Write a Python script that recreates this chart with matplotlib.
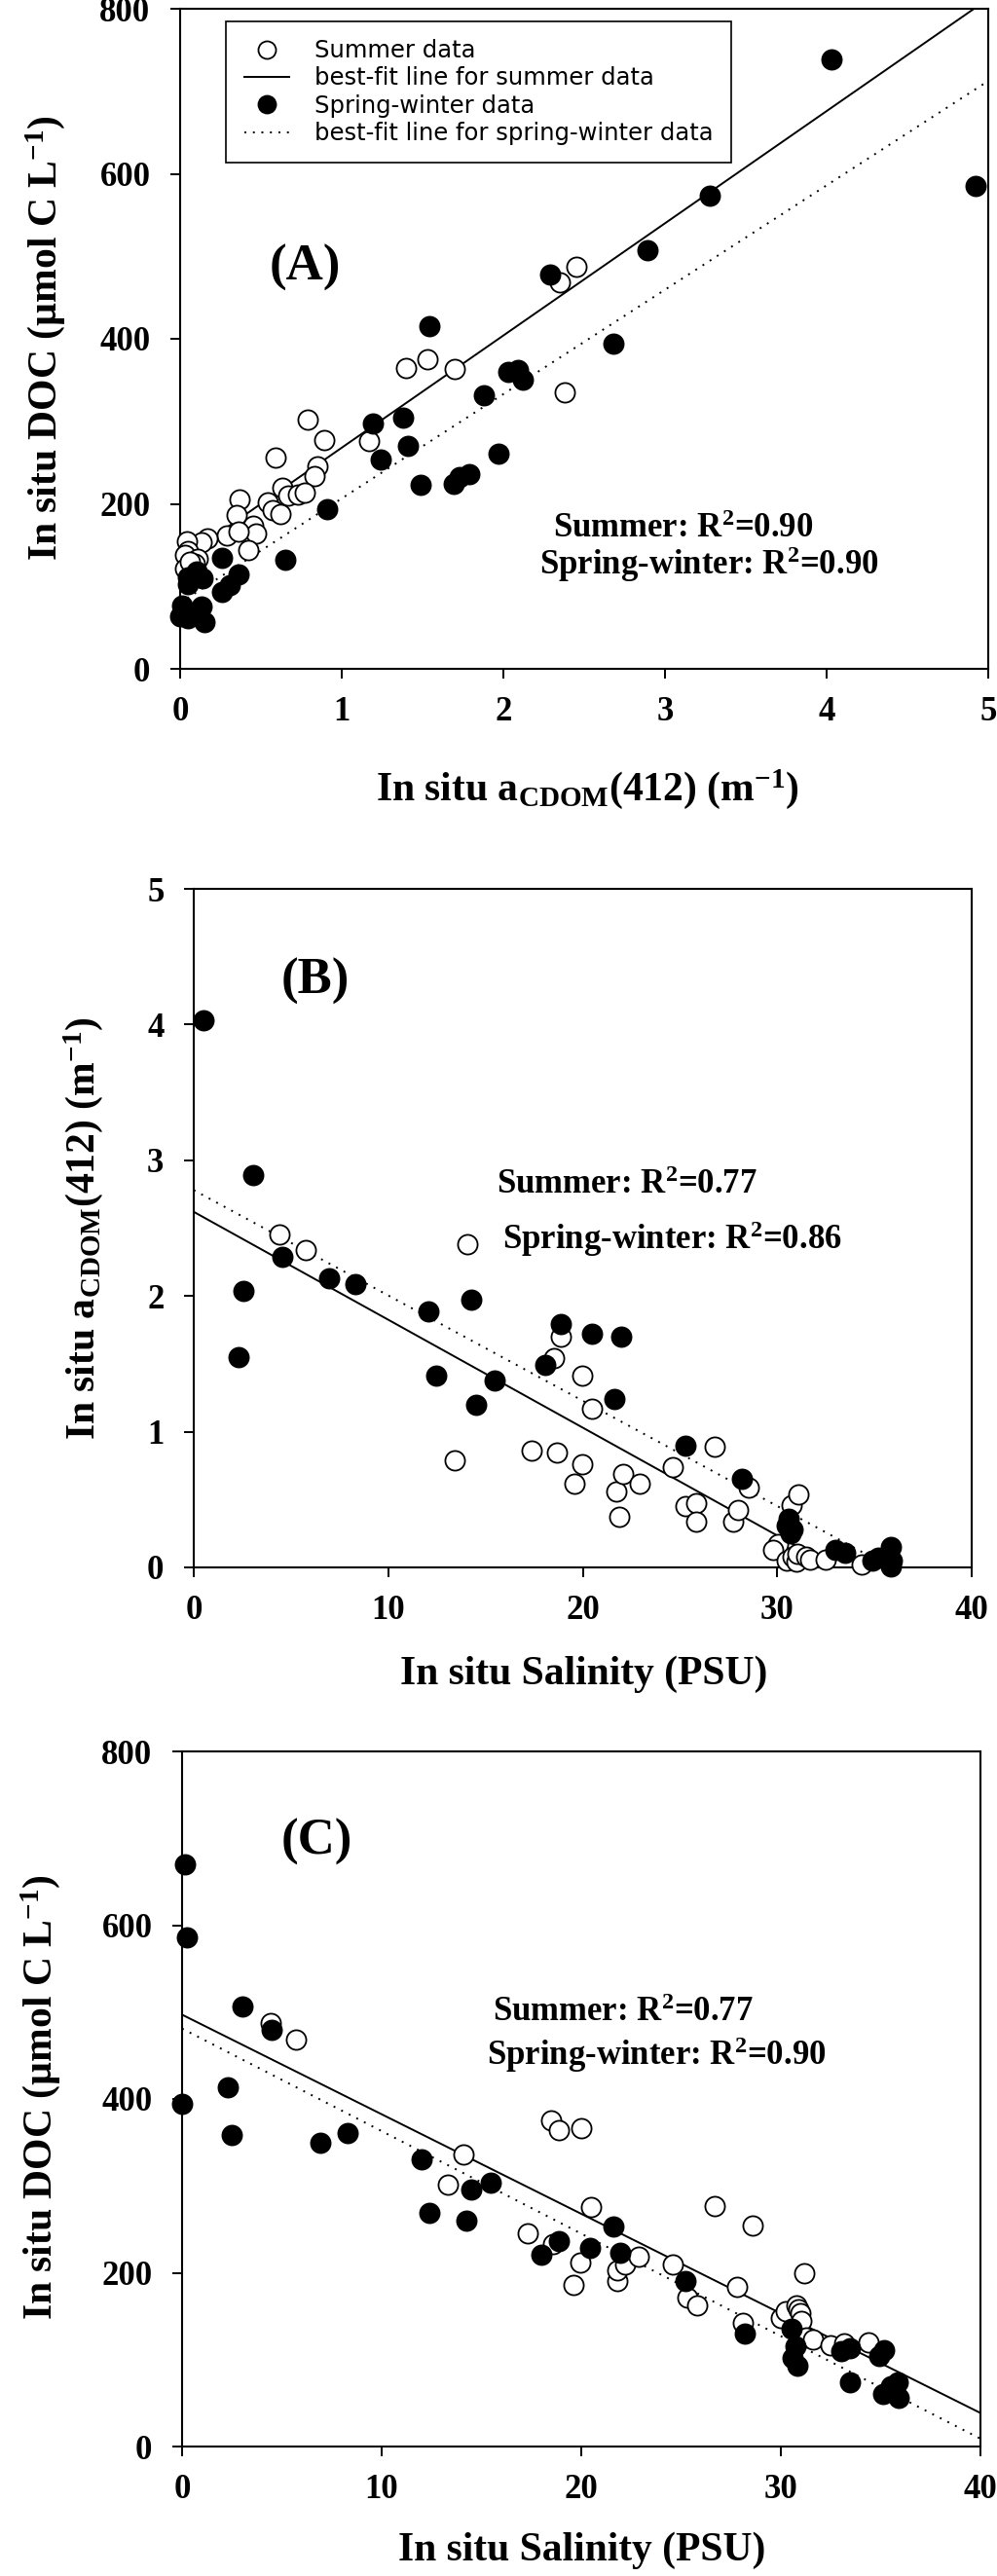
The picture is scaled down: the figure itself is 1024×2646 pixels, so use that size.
import matplotlib
matplotlib.use("Agg")
import matplotlib.pyplot as plt
import numpy as np
from matplotlib.lines import Line2D

plt.rcParams['font.family'] = ['Liberation Serif', 'DejaVu Serif']
plt.rcParams['font.weight'] = 'bold'
plt.rcParams['mathtext.fontset'] = 'custom'
plt.rcParams['mathtext.rm'] = 'Liberation Serif:bold'
plt.rcParams['mathtext.bf'] = 'Liberation Serif:bold'
plt.rcParams['mathtext.it'] = 'Liberation Serif:bold'
plt.rcParams['mathtext.default'] = 'rm'

# ---- panel A: DOC vs aCDOM(412) ----
a_sum_x = [1.40, 1.53, 1.70, 0.79, 0.89, 1.17, 0.59, 0.85, 0.83, 0.37, 0.35, 0.63,
           0.54, 0.57, 0.62, 0.67, 0.73, 0.77, 0.45, 0.47, 0.42, 0.29, 0.36, 0.17,
           0.13, 0.04, 0.05, 0.03, 0.11, 0.09, 0.03, 0.06, 2.35, 2.45, 2.38]
a_sum_y = [365, 375, 364, 302, 277, 276, 256, 245, 234, 205, 187, 220,
           202, 192, 188, 210, 211, 213, 173, 164, 144, 162, 166, 158,
           153, 155, 143, 138, 133, 127, 122, 130, 468, 487, 335]
a_sw_x = [1.54, 1.19, 1.38, 1.41, 1.24, 1.49, 1.69, 1.73, 1.79, 1.97, 1.88, 2.03,
          2.09, 2.12, 0.91, 0.65, 0.26, 0.26, 0.31, 0.36, 0.05, 0.05, 0.14, 0.10,
          0.01, 0.13, 0.00, 0.05, 0.15, 0.08, 4.03, 4.92, 3.28, 2.89, 2.29, 2.68]
a_sw_y = [415, 297, 304, 270, 254, 223, 224, 232, 236, 261, 331, 360,
          362, 350, 193, 132, 135, 93, 101, 114, 111, 103, 110, 118,
          77, 76, 64, 61, 57, 67, 739, 585, 574, 507, 478, 394]
a_fit_sum = (132, 136.0)    # intercept, slope
a_fit_sw = (80, 126.5)

# ---- panel B: aCDOM(412) vs salinity ----
b_sum_x = [4.41, 5.78, 14.08, 18.86, 18.53, 19.97, 20.49, 13.40, 17.35, 18.69, 19.97, 19.58,
           21.73, 21.86, 22.06, 22.91, 24.61, 26.76, 25.26, 25.85, 25.85, 27.75, 27.97, 28.55,
           30.72, 31.10, 30.05, 29.80, 30.47, 30.80, 30.97, 31.05, 31.47, 31.70, 32.47, 34.33]
b_sum_y = [2.45, 2.34, 2.38, 1.70, 1.54, 1.41, 1.17, 0.79, 0.86, 0.85, 0.76, 0.62,
           0.56, 0.37, 0.69, 0.62, 0.74, 0.89, 0.45, 0.47, 0.34, 0.34, 0.42, 0.59,
           0.46, 0.54, 0.17, 0.13, 0.05, 0.08, 0.04, 0.10, 0.08, 0.06, 0.06, 0.02]
b_sw_x = [0.49, 3.07, 2.55, 2.32, 4.54, 6.96, 8.33, 12.06, 14.28, 12.48, 14.54, 15.49,
          18.86, 18.07, 20.49, 21.96, 21.63, 25.26, 28.18, 30.60, 30.47, 30.80, 30.70,
          32.97, 33.47, 34.88, 35.20, 35.47, 35.85, 35.88, 35.85]
b_sw_y = [4.03, 2.89, 2.04, 1.55, 2.29, 2.13, 2.09, 1.89, 1.97, 1.41, 1.20, 1.38,
          1.79, 1.49, 1.72, 1.70, 1.24, 0.90, 0.65, 0.36, 0.31, 0.28, 0.25,
          0.13, 0.11, 0.05, 0.07, 0.07, 0.15, 0.05, 0.01]
b_fit_sum = (2.62, -0.0795)
b_fit_sw = (2.78, -0.0776)

# ---- panel C: DOC vs salinity ----
c_sum_x = [4.42, 5.70, 18.50, 18.90, 20.00, 14.08, 13.30, 17.30, 20.50, 18.60, 19.97, 19.60,
           21.80, 21.80, 22.20, 22.90, 24.60, 26.70, 28.60, 25.30, 25.80, 27.79, 28.08, 31.17,
           30.00, 30.23, 30.80, 30.88, 30.96, 31.04, 31.29, 31.61, 32.50, 33.16, 34.41]
c_sum_y = [487, 468, 375, 364, 366, 336, 301, 245, 276, 233, 212, 186,
           190, 203, 210, 218, 209, 277, 254, 171, 163, 184, 142, 200,
           148, 156, 162, 158, 153, 145, 126, 123, 117, 119, 120]
c_sw_x = [0.16, 0.26, 0.00, 3.04, 4.48, 2.30, 2.50, 6.91, 8.29, 12.00, 12.38, 14.24,
          14.50, 15.46, 18.02, 18.88, 20.45, 21.60, 21.95, 25.20, 28.20, 30.52, 30.71, 30.59,
          30.85, 33.00, 33.44, 33.48, 34.94, 35.19, 35.10, 35.50, 35.84, 35.92]
c_sw_y = [670, 586, 394, 506, 479, 414, 359, 350, 361, 330, 269, 260,
          296, 304, 221, 236, 229, 253, 223, 191, 130, 136, 115, 102,
          93, 110, 113, 74, 104, 111, 61, 69, 74, 56]
c_fit_sum = (497, -11.46)
c_fit_sw = (481, -11.80)

W, H = 1024, 2646
fig = plt.figure(figsize=(W / 100, H / 100), dpi=100)


def box(l, t, r, b):
    """axes rect from pixel edges (top-left origin)"""
    return [l / W, 1 - b / H, (r - l) / W, (b - t) / H]


def fpos(x, y):
    return x / W, 1 - y / H


DOT = (0, (1, 3.5))
MS = 210


def panel(rect, sx, sy, wx, wy, fsum, fsw, xlim, ylim, xticks, yticks):
    ax = fig.add_axes(rect)
    xs = np.array(xlim)
    ax.plot(xs, fsum[0] + fsum[1] * xs, color='black', lw=1.4)
    ax.plot(xs, fsw[0] + fsw[1] * xs, color='black', lw=1.4, linestyle=DOT)
    ax.scatter(sx, sy, s=MS, facecolors='white', edgecolors='black', linewidths=1.3,
               clip_on=False, zorder=3)
    ax.scatter(wx, wy, s=MS, facecolors='black', edgecolors='black', linewidths=1.3,
               clip_on=False, zorder=4)
    ax.set_xlim(*xlim)
    ax.set_ylim(*ylim)
    ax.set_xticks(xticks)
    ax.set_yticks(yticks)
    ax.tick_params(direction='out', length=7, width=1.4, labelsize=25)
    ax.tick_params(axis='x', pad=13)
    ax.tick_params(axis='y', pad=15)
    for lab in ax.get_xticklabels() + ax.get_yticklabels():
        lab.set_fontweight('bold')
    for sp in ax.spines.values():
        sp.set_linewidth(1.5)
    return ax


axA = panel(box(185, 9, 1015, 687), a_sum_x, a_sum_y, a_sw_x, a_sw_y,
            a_fit_sum, a_fit_sw, (0, 5), (0, 800), range(0, 6), range(0, 801, 200))
axB = panel(box(199, 913, 998, 1610), b_sum_x, b_sum_y, b_sw_x, b_sw_y,
            b_fit_sum, b_fit_sw, (0, 40), (0, 5), range(0, 41, 10), range(0, 6))
axC = panel(box(187, 1799, 1007, 2513), c_sum_x, c_sum_y, c_sw_x, c_sw_y,
            c_fit_sum, c_fit_sw, (0, 40), (0, 800), range(0, 41, 10), range(0, 801, 200))

# legend (panel A)
handles = [
    Line2D([], [], marker='o', ls='none', mfc='white', mec='black', ms=13, mew=1.3),
    Line2D([], [], color='black', lw=1.4),
    Line2D([], [], marker='o', ls='none', mfc='black', mec='black', ms=13, mew=1.3),
    Line2D([], [], color='black', lw=1.4, linestyle=DOT),
]
labels = ['Summer data', 'best-fit line for summer data', 'Spring-winter data',
          'best-fit line for spring-winter data']
leg = axA.legend(handles, labels, loc='upper left', bbox_to_anchor=(0.057, 0.981),
                 frameon=True, fancybox=False, edgecolor='black', framealpha=1,
                 borderaxespad=0, borderpad=0.75, labelspacing=0.18, handlelength=1.9,
                 handletextpad=1.1, prop={'family': 'DejaVu Sans', 'size': 17.5,
                                          'weight': 'normal'})
leg.get_frame().set_linewidth(1.2)

lab_kw = dict(fontsize=30, fontweight='bold', ha='center', va='center')
acdom = 'In situ a$_{\\mathrm{CDOM}}$(412) (m$^{-1}$)'
doc = 'In situ DOC (\u00b5mol C L$^{-1}$)'
sal = 'In situ Salinity (PSU)'

fig.text(*fpos(603, 811), acdom, **lab_kw)
fig.text(*fpos(47, 347), doc, rotation=90, **lab_kw)
fig.text(*fpos(600, 1720), sal, **lab_kw)
fig.text(*fpos(86, 1262), acdom, rotation=90, **lab_kw)
fig.text(*fpos(598, 2620), sal, **lab_kw)
fig.text(*fpos(42, 2154), doc, rotation=90, **lab_kw)

tag_kw = dict(fontsize=38, fontweight='bold', ha='center', va='center')
fig.text(*fpos(313, 275), '(A)', **tag_kw)
fig.text(*fpos(324, 1008), '(B)', **tag_kw)
fig.text(*fpos(325, 1892), '(C)', **tag_kw)

r_kw = dict(fontsize=25, fontweight='bold', ha='center', va='center')
fig.text(*fpos(702, 544), 'Summer: R$^2$=0.90', **r_kw)
fig.text(*fpos(728, 580), 'Spring-winter: R$^2$=0.90', **r_kw)
fig.text(*fpos(644, 1218), 'Summer: R$^2$=0.77', **r_kw)
fig.text(*fpos(690, 1273), 'Spring-winter: R$^2$=0.86', **r_kw)
fig.text(*fpos(640, 2068), 'Summer: R$^2$=0.77', **r_kw)
fig.text(*fpos(674, 2111), 'Spring-winter: R$^2$=0.90', **r_kw)

fig.savefig('out.png', dpi=100)
